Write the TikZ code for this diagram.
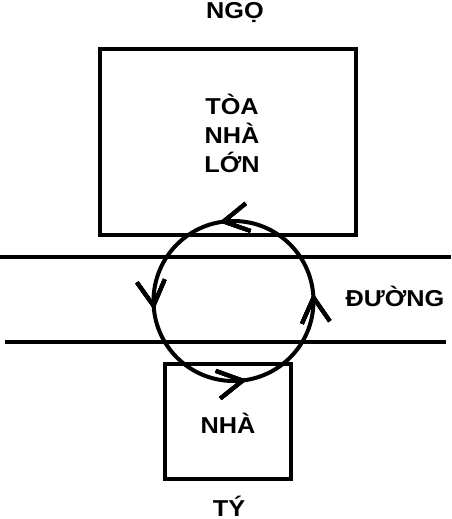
\documentclass[tikz,border=0pt]{standalone}
\usepackage{fontspec}
\setmainfont{Liberation Sans}[FakeStretch=1.1]
\usetikzlibrary{arrows.meta,decorations.markings}
\begin{document}
\begin{tikzpicture}[x=1pt,y=-1pt,
    wall/.style={line width=4pt},
    signtext/.style={font=\fontsize{23}{29}\selectfont\bfseries, inner sep=0pt, anchor=base},
    turn/.style={decoration={markings,
        mark=at position #1 with {\arrowreversed{Straight Barb[length=25pt,width=28pt]}}},
      postaction={decorate}}]
  \useasboundingbox (0,0) rectangle (451,519);

  % Buildings
  \draw[wall] (100,48.7) rectangle (356,235);
  \draw[wall] (165.3,364) rectangle (290.7,478.7);

  % Road edges
  \draw[wall] (0,256.7) -- (451,256.7);
  \draw[wall] (5,341.7) -- (446,341.7);

  % Loop round the road, one barb per quarter
  \draw[wall, turn=0.2236, turn=0.4825, turn=0.722, turn=0.985] (233.5,301) circle (80);

  % Labels (multi-line node sits on its last baseline)
  \node[signtext] (ngo) at (235,19) {NGỌ};
  \node[signtext, align=center] (toanha) at (232,172) {TÒA\\NHÀ\\LỚN};
  \node[signtext] (nha) at (228,433.3) {NHÀ};
  \node[signtext] (duong) at (395,306.7) {ĐƯỜNG};
  \node[signtext] (ty) at (229,516.5) {TÝ};
\end{tikzpicture}
\end{document}
